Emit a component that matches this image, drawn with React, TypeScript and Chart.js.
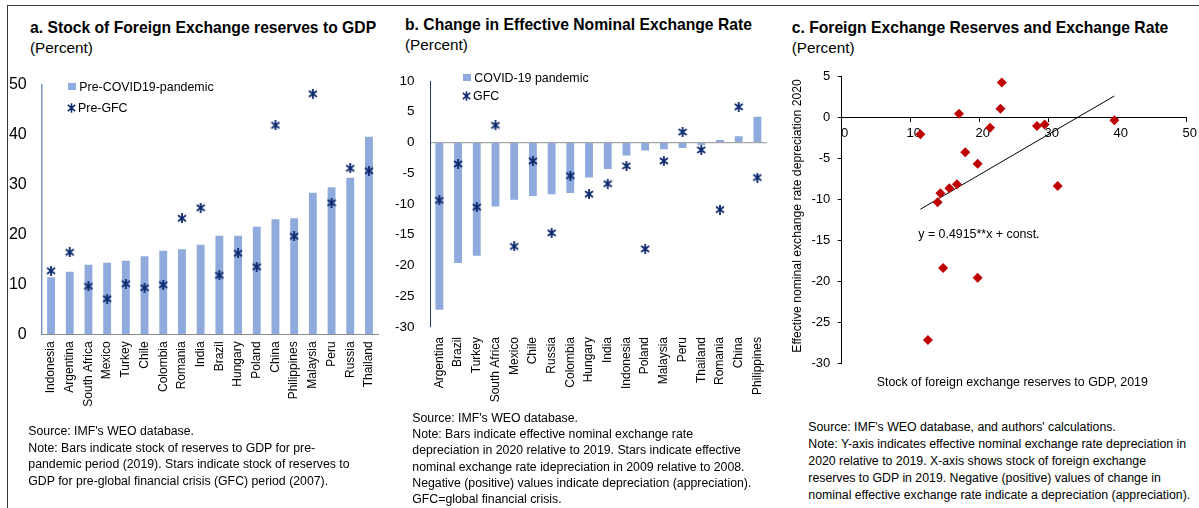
import React, { useEffect, useRef } from "react";
import { Chart, registerables } from "chart.js";

Chart.register(...registerables);

const FONT = "'Liberation Sans', Arial, Helvetica, sans-serif";
Chart.defaults.font.family = FONT;
Chart.defaults.color = "#000";

// ---------- Panel a: reserves to GDP ----------
const reserveCountries = [
  "Indonesia", "Argentina", "South Africa", "Mexico", "Turkey", "Chile", "Colombia", "Romania", "India",
  "Brazil", "Hungary", "Poland", "China", "Philippines", "Malaysia", "Peru", "Russia", "Thailand",
];
const reservesPreCovid = [11.4, 12.5, 13.9, 14.3, 14.7, 15.6, 16.7, 17.0, 17.9, 19.7, 19.7, 21.5, 23.0, 23.2, 28.3, 29.4, 31.3, 39.5];
const reservesPreGfc = [12.7, 16.4, 9.6, 7.1, 10.1, 9.3, 9.9, 23.2, 25.3, 11.8, 16.2, 13.5, 41.8, 19.6, 48.1, 26.3, 33.2, 32.7];
const reserveTicks = [0, 10, 20, 30, 40, 50];

// ---------- Panel b: change in NEER ----------
const enerCountries = [
  "Argentina", "Brazil", "Turkey", "South Africa", "Mexico", "Chile", "Russia", "Colombia", "Hungary",
  "India", "Indonesia", "Poland", "Malaysia", "Peru", "Thailand", "Romania", "China", "Philippines",
];
const enerCovid = [-27.2, -19.6, -18.4, -10.4, -9.3, -8.7, -8.4, -8.2, -5.7, -4.3, -2.1, -1.3, -1.1, -0.9, -0.4, 0.4, 1.0, 4.2];
const enerGfc = [-9.4, -3.5, -10.5, 2.8, -16.9, -3.0, -14.7, -5.4, -8.4, -6.7, -3.8, -17.3, -3.0, 1.7, -1.2, -10.9, 5.8, -5.7];
const enerTicks = [-30, -25, -20, -15, -10, -5, 0, 5, 10];

// ---------- Panel c: scatter ----------
const scatterXTicks = [0, 10, 20, 30, 40, 50];
const scatterYTicks = [-30, -25, -20, -15, -10, -5, 0, 5];
const TREND_SLOPE = 0.4915;
const TREND_CONST = -16.85;
const TREND_LABEL = "y = 0.4915**x + const.";

const NOTE_A = [
  "Source: IMF's WEO database.",
  "Note: Bars indicate stock of reserves to GDP for pre-",
  "pandemic period (2019). Stars indicate stock of reserves to",
  "GDP for pre-global financial crisis (GFC) period (2007).",
];
const NOTE_B = [
  "Source: IMF's WEO database.",
  "Note: Bars indicate effective nominal exchange rate",
  "depreciation in 2020 relative to 2019. Stars indicate effective",
  "nominal exchange rate idepreciation in 2009 relative to 2008.",
  "Negative (positive) values indicate depreciation (appreciation).",
  "GFC=global financial crisis.",
];
const NOTE_C = [
  "Source: IMF's WEO database, and authors' calculations.",
  "Note: Y-axis indicates effective nominal exchange rate depreciation in",
  "2020 relative to 2019. X-axis shows stock of foreign exchange",
  "reserves to GDP in 2019. Negative (positive) values of change in",
  "nominal effective exchange rate indicate a depreciation (appreciation).",
];

const BAR_COLOR = "#8FAADC";
const STAR_COLOR = "#0E2A6E";
const DIAMOND_COLOR = "#C00000";

function makeStar(size: number, color: string, lw: number): HTMLCanvasElement {
  const c = document.createElement("canvas");
  c.width = size;
  c.height = size;
  const ctx = c.getContext("2d")!;
  ctx.strokeStyle = color;
  ctx.lineWidth = lw;
  const m = 1;
  ctx.beginPath();
  ctx.moveTo(m, m + 1);
  ctx.lineTo(size - m, size - m - 1);
  ctx.moveTo(size - m, m + 1);
  ctx.lineTo(m, size - m - 1);
  ctx.moveTo(size / 2, 0);
  ctx.lineTo(size / 2, size);
  ctx.stroke();
  return c;
}

function useChart(build: (cv: HTMLCanvasElement) => Chart) {
  const ref = useRef<HTMLCanvasElement>(null);
  useEffect(() => {
    if (!ref.current) return;
    const ch = build(ref.current);
    return () => ch.destroy();
  }, []);
  return ref;
}

const fixY = (w: number) => (s: any) => {
  s.width = w;
  s.paddingTop = 0;
  s.paddingBottom = 0;
};

function PanelA() {
  const ref = useChart((cv) => {
    const star = makeStar(10, STAR_COLOR, 1.8);
    return new Chart(cv, {
      type: "bar",
      data: {
        labels: reserveCountries,
        datasets: [
          {
            type: "line",
            label: "Pre-GFC",
            data: reservesPreGfc,
            showLine: false,
            pointStyle: star as any,
            pointRadius: 5,
            order: 0,
          } as any,
          {
            type: "bar",
            label: "Pre-COVID19-pandemic",
            data: reservesPreCovid,
            backgroundColor: BAR_COLOR,
            barPercentage: 0.42,
            categoryPercentage: 1,
            order: 1,
          },
        ],
      },
      options: {
        responsive: false,
        animation: false,
        devicePixelRatio: 1,
        layout: { padding: { top: 14.3, right: 13.7, left: 0, bottom: 0 } },
        plugins: { legend: { display: false }, tooltip: { enabled: false } },
        scales: {
          x: {
            grid: { display: false, drawTicks: false },
            border: { display: true, color: "#8C8C8C", width: 1 },
            ticks: { autoSkip: false, minRotation: 90, maxRotation: 90, padding: 7, font: { size: 12 }, color: "#000" },
            afterFit: (s: any) => { s.height = 95.7; },
          },
          y: {
            min: reserveTicks[0],
            max: reserveTicks[reserveTicks.length - 1],
            ticks: { stepSize: reserveTicks[1] - reserveTicks[0], padding: 15, font: { size: 16 }, color: "#000" },
            grid: { display: false, drawTicks: false },
            border: { display: true, color: "#7F93C6", width: 1.5 },
            afterFit: fixY(41.7),
          },
        },
      } as any,
    });
  });
  return <canvas ref={ref} width={392} height={360} style={{ position: "absolute", left: 0, top: 70, width: 392, height: 360 }} />;
}

function PanelB() {
  const ref = useChart((cv) => {
    const star = makeStar(10, STAR_COLOR, 1.8);
    return new Chart(cv, {
      type: "bar",
      data: {
        labels: enerCountries,
        datasets: [
          {
            type: "line",
            label: "GFC",
            data: enerGfc,
            showLine: false,
            pointStyle: star as any,
            pointRadius: 5,
            order: 0,
          } as any,
          {
            type: "bar",
            label: "COVID-19 pandemic",
            data: enerCovid,
            backgroundColor: BAR_COLOR,
            barPercentage: 0.42,
            categoryPercentage: 1,
            order: 1,
          },
        ],
      },
      options: {
        responsive: false,
        animation: false,
        devicePixelRatio: 1,
        layout: { padding: { top: 21, right: 7, left: 0, bottom: 0 } },
        plugins: { legend: { display: false }, tooltip: { enabled: false } },
        scales: {
          x: {
            grid: { display: false, drawTicks: false },
            border: { display: false },
            ticks: { autoSkip: false, minRotation: 90, maxRotation: 90, padding: 10, font: { size: 12 }, color: "#000" },
            afterFit: (s: any) => { s.height = 93; },
          },
          y: {
            min: enerTicks[0],
            max: enerTicks[enerTicks.length - 1],
            ticks: { stepSize: enerTicks[1] - enerTicks[0], padding: 15.5, font: { size: 13.5 }, color: "#000" },
            grid: {
              display: true,
              drawTicks: false,
              lineWidth: 1.2,
              color: (ctx: any) => (ctx.tick && ctx.tick.value === 0 ? "#A6A6A6" : "rgba(0,0,0,0)"),
            },
            border: { display: true, color: "#1F3A78", width: 1 },
            afterFit: fixY(38),
          },
        },
      } as any,
    });
  });
  return <canvas ref={ref} width={390} height={360} style={{ position: "absolute", left: 392, top: 60, width: 390, height: 360 }} />;
}

function PanelC() {
  const ref = useChart((cv) => {
    const points = reserveCountries.map((c, i) => ({
      x: reservesPreCovid[i],
      y: enerCovid[enerCountries.indexOf(c)],
    }));
    const xs = points.map((p) => p.x);
    const xMin = Math.min(...xs);
    const xMax = Math.max(...xs);
    const trend = [
      { x: xMin, y: TREND_SLOPE * xMin + TREND_CONST },
      { x: xMax, y: TREND_SLOPE * xMax + TREND_CONST },
    ];
    return new Chart(cv, {
      type: "scatter",
      data: {
        datasets: [
          {
            type: "line",
            label: "trend",
            data: trend,
            borderColor: "#000",
            borderWidth: 1,
            pointRadius: 0,
            showLine: true,
            order: 1,
          } as any,
          {
            type: "scatter",
            label: "countries",
            data: points,
            pointStyle: "rectRot",
            pointRadius: 5,
            backgroundColor: DIAMOND_COLOR,
            borderColor: DIAMOND_COLOR,
            borderWidth: 0,
            order: 0,
          } as any,
        ],
      },
      options: {
        responsive: false,
        animation: false,
        devicePixelRatio: 1,
        layout: { padding: { top: 21, right: 10.7, left: 0, bottom: 22 } },
        plugins: { legend: { display: false }, tooltip: { enabled: false } },
        scales: {
          x: {
            type: "linear",
            position: { y: 0 },
            min: scatterXTicks[0],
            max: scatterXTicks[scatterXTicks.length - 1],
            ticks: { stepSize: scatterXTicks[1] - scatterXTicks[0], padding: 5, labelOffset: 3, font: { size: 13 }, color: "#000" },
            grid: { display: true, drawOnChartArea: false, drawTicks: true, tickLength: 4, tickColor: "#000", color: "#000" },
            border: { display: true, color: "#000", width: 1 },
          },
          y: {
            type: "linear",
            position: "left",
            min: scatterYTicks[0],
            max: scatterYTicks[scatterYTicks.length - 1],
            ticks: { stepSize: scatterYTicks[1] - scatterYTicks[0], padding: 7.5, font: { size: 13 }, color: "#000" },
            grid: { display: true, drawOnChartArea: false, drawTicks: true, tickLength: 4, tickColor: "#000", color: "#000" },
            border: { display: true, color: "#000", width: 1 },
            afterFit: fixY(59.7),
          },
        },
      } as any,
    });
  });
  return <canvas ref={ref} width={417} height={330} style={{ position: "absolute", left: 782, top: 55, width: 417, height: 330 }} />;
}

const StarIcon = () => (
  <svg width="9" height="10" style={{ display: "block" }}>
    <path d="M0.8 1.8 L8.2 8.2 M8.2 1.8 L0.8 8.2 M4.5 0.3 L4.5 9.7" stroke={STAR_COLOR} strokeWidth="1.6" fill="none" />
  </svg>
);
const SquareIcon = () => <div style={{ width: 7.5, height: 7.5, background: BAR_COLOR }} />;

function LegendItem(props: { left: number; cy: number; icon: React.ReactNode; text: string }) {
  return (
    <div
      style={{
        position: "absolute",
        left: props.left,
        top: props.cy - 8,
        height: 16,
        display: "flex",
        alignItems: "center",
        fontSize: 12.4,
        whiteSpace: "nowrap",
      }}
    >
      <div style={{ width: 11, display: "flex", justifyContent: "flex-start" }}>{props.icon}</div>
      <span style={{ lineHeight: "16px" }}>{props.text}</span>
    </div>
  );
}

function Title(props: { left: number; top: number; title: string; gap?: number }) {
  return (
    <div style={{ position: "absolute", left: props.left, top: props.top, whiteSpace: "nowrap" }}>
      <div style={{ fontWeight: "bold", fontSize: 15.7, lineHeight: "18px" }}>{props.title}</div>
      <div style={{ fontSize: 15.3, lineHeight: `${props.gap ?? 21}px` }}>(Percent)</div>
    </div>
  );
}

function Note(props: { left: number; top: number; lh: number; lines: string[] }) {
  return (
    <div
      style={{
        position: "absolute",
        left: props.left,
        top: props.top,
        fontSize: 12.3,
        lineHeight: `${props.lh}px`,
        whiteSpace: "pre",
      }}
    >
      {props.lines.join("\n")}
    </div>
  );
}

export default function App() {
  return (
    <div
      style={{
        position: "fixed",
        left: 0,
        top: 0,
        width: 1199,
        height: 508,
        background: "#fff",
        overflow: "hidden",
        fontFamily: FONT,
        color: "#000",
      }}
    >
      <div
        style={{
          position: "absolute",
          left: 7,
          top: 5,
          right: 0,
          bottom: -4,
          borderTop: "1px solid #3A3A3A",
          borderLeft: "1px solid #3A3A3A",
        }}
      />

      <Title left={30} top={19} title="a. Stock of Foreign Exchange reserves to GDP" />
      <Title left={405} top={15.6} title="b. Change in Effective Nominal Exchange Rate" gap={21} />
      <Title left={791.7} top={19} title="c. Foreign Exchange Reserves and Exchange Rate" />

      <PanelA />
      <PanelB />
      <PanelC />

      <LegendItem left={68.3} cy={86.7} icon={<SquareIcon />} text="Pre-COVID19-pandemic" />
      <LegendItem left={67} cy={108.3} icon={<StarIcon />} text="Pre-GFC" />
      <LegendItem left={463.3} cy={77.5} icon={<SquareIcon />} text="COVID-19 pandemic" />
      <LegendItem left={462} cy={96} icon={<StarIcon />} text="GFC" />

      <div style={{ position: "absolute", left: 918.3, top: 226, fontSize: 12.4, lineHeight: "16px", whiteSpace: "nowrap" }}>
        {TREND_LABEL}
      </div>
      <div
        style={{
          position: "absolute",
          left: 796.7 - 150,
          top: 216 - 8,
          width: 300,
          height: 16,
          lineHeight: "16px",
          fontSize: 12.2,
          textAlign: "center",
          whiteSpace: "nowrap",
          transform: "rotate(-90deg)",
          transformOrigin: "50% 50%",
        }}
      >
        Effective nominal exchange rate depreciation 2020
      </div>
      <div style={{ position: "absolute", left: 876.7, top: 374.4, fontSize: 12.4, lineHeight: "16px", whiteSpace: "nowrap" }}>
        Stock of foreign exchange reserves to GDP, 2019
      </div>

      <Note left={28.3} top={423} lh={16.6} lines={NOTE_A} />
      <Note left={412.3} top={410} lh={16.2} lines={NOTE_B} />
      <Note left={808.3} top={419} lh={16.9} lines={NOTE_C} />
    </div>
  );
}
